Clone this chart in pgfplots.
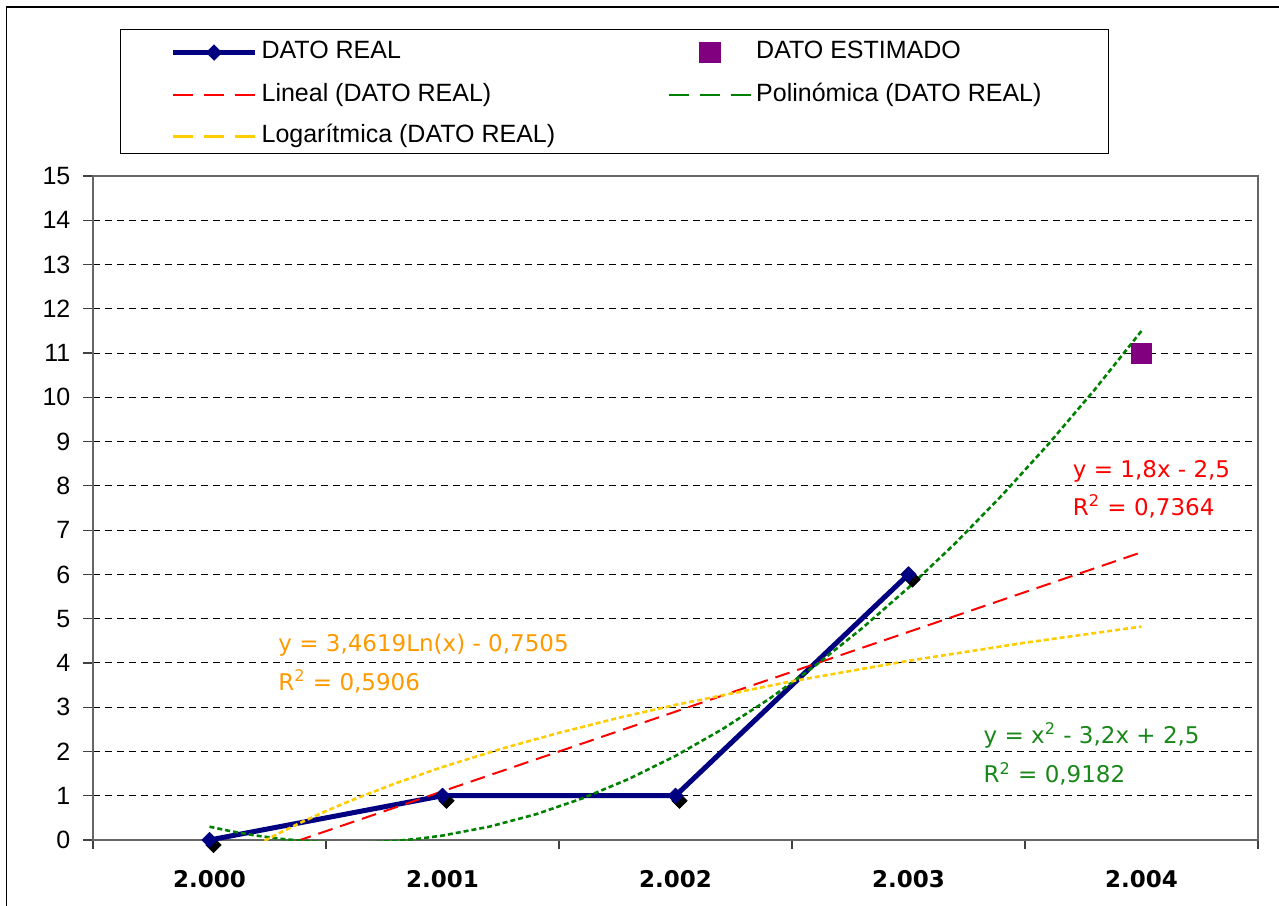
\documentclass[border=0pt]{standalone}
\usepackage{fontspec}
\setmainfont{Liberation Sans}
\newfontfamily\djv{DejaVu Sans}
\usepackage{pgfplots}
\pgfplotsset{compat=1.18}
\definecolor{navyb}{RGB}{0,0,128}
\definecolor{purp}{RGB}{128,0,128}
\definecolor{trred}{RGB}{255,0,0}
\definecolor{trgreen}{RGB}{0,128,0}
\definecolor{tryellow}{RGB}{255,204,0}
\definecolor{txorange}{RGB}{255,153,0}
\definecolor{txgreen}{RGB}{25,135,25}
\begin{document}
\begin{tikzpicture}
\path[use as bounding box, clip] (-46.5pt,-32.5pt) rectangle (593pt,420pt);
\begin{axis}[
  scale only axis, width=582.5pt, height=332pt,
  at={(0pt,0pt)}, anchor=south west,
  xmin=0.5, xmax=5.5, ymin=0, ymax=15,
  xtick={1,2,3,4,5}, xticklabels={2.000,2.001,2.002,2.003,2.004},
  minor xtick={0.5,1.5,2.5,3.5,4.5,5.5},
  ytick={0,1,...,15},
  tick align=outside, tick pos=left,
  major tick length=5pt, minor tick length=4.5pt,
  major x tick style={draw=none},
  minor x tick style={draw=black!75, line width=0.6pt},
  ytick style={draw=black!75, line width=0.6pt},
  ymajorgrids,
  major grid style={draw=black, line width=0.45pt, dash pattern=on 3.5pt off 2.5pt},
  axis line style={draw=black!60, line width=1pt},
  /pgf/number format/assume math mode=true,
  yticklabel style={font=\fontsize{12.5}{14}\selectfont, xshift=-2.8pt},
  xticklabel style={font=\djv\bfseries\fontsize{11.5}{13}\selectfont, yshift=-6.5pt},
  legend columns=2,
  legend cell align=left,
  legend style={at={(0.02318,1.22139)}, anchor=north west, draw=black, line width=0.6pt,
    fill=white, inner xsep=25pt, inner ysep=4pt, row sep=8.75pt, column sep=0pt,
    font=\fontsize{12.5}{14}\selectfont,
    nodes={inner sep=0pt, text height=10.5pt, text depth=1.5pt}},
  legend image code/.code={%
    \draw[mark repeat=2,mark phase=2,#1] plot coordinates {(0pt,-1.5pt)(20.5pt,-1.5pt)(41pt,-1.5pt)};
    \path (43pt,0pt);},
]
% shadow of the markers
\addplot[forget plot, only marks, mark=square*, mark size=2.7pt, draw=black, fill=black,
  mark options={xshift=2pt, yshift=-2.5pt, rotate=45}] coordinates {(1,0)(2,1)(3,1)(4,6)};
% DATO REAL
\addplot[forget plot, navyb, line width=2.5pt, line join=round, line cap=round,
  mark=square*, mark size=2.7pt, mark options={rotate=45, fill=navyb, solid, line width=0.4pt}]
  coordinates {(1,0)(2,1)(3,1)(4,6)};
% DATO ESTIMADO
\addplot[forget plot, only marks, mark=square*, mark size=5pt, draw=purp, fill=purp]
  coordinates {(5,11)};
% Lineal
\addplot[forget plot, trred, line width=1pt, dash pattern=on 7.5pt off 4pt]
  coordinates {(1,-0.7)(5,6.5)};
% Polinomica
\addplot[forget plot, trgreen, line width=1.3pt, dash pattern=on 2.5pt off 1.5pt]
  coordinates {(1,0.3)(1.1,0.19)(1.2,0.1)(1.3,0.03)(1.4,-0.02)(1.5,-0.05)(1.6,-0.06)(1.7,-0.05)
  (1.8,-0.02)(1.9,0.03)(2,0.1)(2.2,0.3)(2.4,0.58)(2.6,0.94)(2.8,1.38)(3,1.9)(3.2,2.5)(3.4,3.18)
  (3.6,3.94)(3.8,4.78)(4,5.7)(4.2,6.7)(4.4,7.78)(4.6,8.94)(4.8,10.18)(5,11.5)};
% Logaritmica
\addplot[forget plot, tryellow, line width=1.3pt, dash pattern=on 2.5pt off 1.5pt]
  coordinates {(1,-0.7505)(1.1,-0.4205)(1.2,-0.1193)(1.25,0.022)(1.3,0.1578)(1.4,0.4143)
  (1.5,0.6532)(1.6,0.8766)(1.8,1.2844)(2,1.6491)(2.25,2.0569)(2.5,2.4216)(2.75,2.7516)
  (3,3.0528)(3.5,3.5865)(4,4.0487)(4.5,4.4565)(5,4.8212)};
% legend
\addlegendimage{navyb, line width=2.5pt, mark=square*, mark size=2.7pt, mark options={rotate=45, fill=navyb, solid, line width=0.4pt}}
\addlegendentry{\makebox[203pt][l]{DATO REAL}}
\addlegendimage{only marks, mark=square*, mark size=5pt, draw=purp, fill=purp}
\addlegendentry{\makebox[151pt][l]{DATO ESTIMADO}}
\addlegendimage{trred, line width=1.3pt, dash pattern=on 10pt off 5.5pt}
\addlegendentry{\makebox[203pt][l]{Lineal (DATO REAL)}}
\addlegendimage{trgreen, line width=1.3pt, dash pattern=on 10pt off 5.5pt}
\addlegendentry{\makebox[151pt][l]{Polinómica (DATO REAL)}}
\addlegendimage{tryellow, line width=1.3pt, dash pattern=on 10pt off 5.5pt}
\addlegendentry{\makebox[203pt][l]{Logarítmica (DATO REAL)}}
% equations
\node[anchor=base west, inner sep=0pt, text=txorange, font=\djv\fontsize{11.5}{13}\selectfont]
  at (axis cs:1.294,4.247) {y = 3,4619Ln(x) - 0,7505};
\node[anchor=base west, inner sep=0pt, text=txorange, font=\djv\fontsize{11.5}{13}\selectfont]
  at (axis cs:1.294,3.388) {R\textsuperscript{2} = 0,5906};
\node[anchor=base west, inner sep=0pt, text=trred, font=\djv\fontsize{11.5}{13}\selectfont]
  at (axis cs:4.704,8.20) {y = 1,8x - 2,5};
\node[anchor=base west, inner sep=0pt, text=trred, font=\djv\fontsize{11.5}{13}\selectfont]
  at (axis cs:4.704,7.34) {R\textsuperscript{2} = 0,7364};
\node[anchor=base west, inner sep=0pt, text=txgreen, font=\djv\fontsize{11.5}{13}\selectfont]
  at (axis cs:4.321,2.19) {y = x\textsuperscript{2} - 3,2x + 2,5};
\node[anchor=base west, inner sep=0pt, text=txgreen, font=\djv\fontsize{11.5}{13}\selectfont]
  at (axis cs:4.321,1.29) {R\textsuperscript{2} = 0,9182};
\end{axis}
\draw[black, line width=0.8pt] (-43.25pt,416.5pt) rectangle (620pt,-60pt);
\end{tikzpicture}
\end{document}
